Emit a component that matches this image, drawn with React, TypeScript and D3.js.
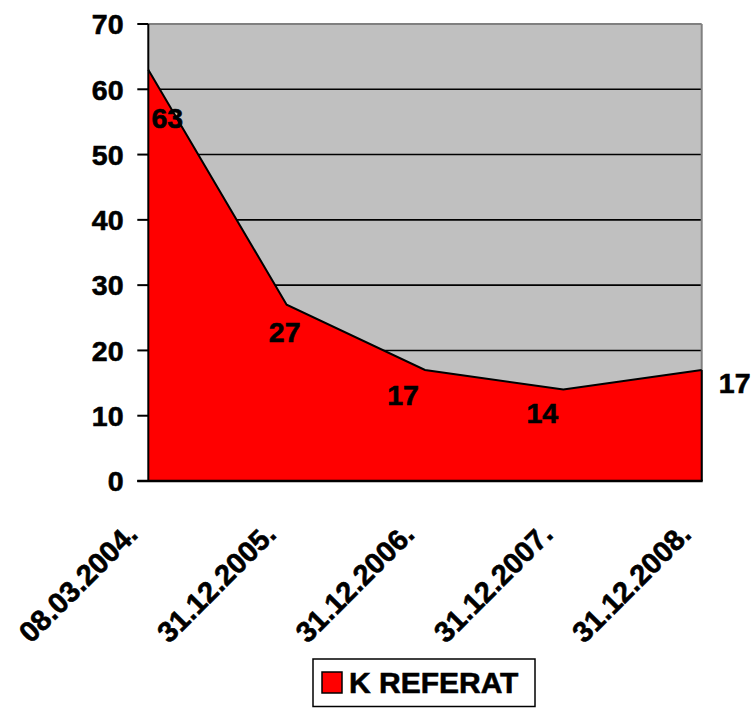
import React from "react";
import * as d3 from "d3";

const categories = ["08.03.2004.", "31.12.2005.", "31.12.2006.", "31.12.2007.", "31.12.2008."];
const values = [63, 27, 17, 14, 17];
const yTicks = [0, 10, 20, 30, 40, 50, 60, 70];
const seriesName = "K REFERAT";

// Excel-style data label offsets relative to each point (dx, dy baseline)
const labelOffsets: [number, number][] = [
  [19, 58],
  [-2, 37],
  [-22, 35],
  [-21, 33],
  [33, 23],
];

const W = 756;
const H = 708;
const left = 148.3;
const right = 701.7;
const top = 24;
const bottom = 481;
const FONT = "'Liberation Sans', Arial, Helvetica, sans-serif";
const TS = { stroke: "#000", strokeWidth: 0.6 };

export default function App() {
  const x = d3
    .scalePoint<string>()
    .domain(categories)
    .range([left, right]);
  const y = d3.scaleLinear().domain([0, 70]).range([bottom, top]);

  const pts = categories.map((c, i) => [x(c) as number, y(values[i])] as [number, number]);
  const area = d3
    .area<[number, number]>()
    .x((d) => d[0])
    .y0(y(0))
    .y1((d) => d[1]);
  const line = d3
    .line<[number, number]>()
    .x((d) => d[0])
    .y((d) => d[1]);

  return (
    <svg
      width={W}
      height={H}
      style={{ position: "absolute", left: 0, top: 0, background: "#fff" }}
      fontFamily={FONT}
      fontWeight="bold"
    >
      {/* plot background */}
      <rect x={left} y={top} width={right - left} height={bottom - top} fill="#C0C0C0" />
      {/* gridlines */}
      {yTicks
        .filter((t) => t > 0 && t < 70)
        .map((t) => (
          <line key={t} x1={left} x2={right} y1={y(t)} y2={y(t)} stroke="#000" strokeWidth={1.6} />
        ))}
      {/* top and right border */}
      <line x1={left} x2={right} y1={y(70)} y2={y(70)} stroke="#808080" strokeWidth={2} />
      <line x1={right} x2={right} y1={top} y2={bottom} stroke="#808080" strokeWidth={2} />
      {/* area */}
      <path d={area(pts) || ""} fill="#FF0000" />
      <path d={line(pts) || ""} fill="none" stroke="#000" strokeWidth={2} />
      <line x1={right} x2={right} y1={y(values[values.length - 1])} y2={bottom} stroke="#000" strokeWidth={2} />
      {/* axes */}
      <line x1={left} x2={left} y1={top} y2={bottom} stroke="#000" strokeWidth={2} />
      <line x1={left - 11} x2={right + 1} y1={bottom} y2={bottom} stroke="#000" strokeWidth={2.5} />
      {yTicks.map((t) => (
        <g key={t}>
          <line x1={left - 11} x2={left} y1={y(t)} y2={y(t)} stroke="#000" strokeWidth={2} />
          <text x={123.5} y={y(t)} dy="0.36em" textAnchor="end" fontSize={28.5} fill="#000" {...TS}>
            {t}
          </text>
        </g>
      ))}
      {/* data labels */}
      {pts.map((p, i) => (
        <text
          key={i}
          x={p[0] + labelOffsets[i][0]}
          y={p[1] + labelOffsets[i][1]}
          textAnchor="middle"
          fontSize={28.5}
          fill="#000"
          {...TS}
        >
          {values[i]}
        </text>
      ))}
      {/* x labels */}
      {categories.map((c) => (
        <text
          key={c}
          transform={`translate(${(x(c) as number) - 9},536) rotate(-45)`}
          textAnchor="end"
          fontSize={29}
          fill="#000"
          {...TS}
        >
          {c}
        </text>
      ))}
      {/* legend */}
      <rect x={313} y={659} width={222} height={47.5} fill="#fff" stroke="#000" strokeWidth={1.5} />
      <rect x={322} y={672} width={20} height={21} fill="#FF0000" stroke="#000" strokeWidth={1.5} />
      <text x={349} y={693} fontSize={30} fill="#000" {...TS}>
        {seriesName}
      </text>
    </svg>
  );
}
